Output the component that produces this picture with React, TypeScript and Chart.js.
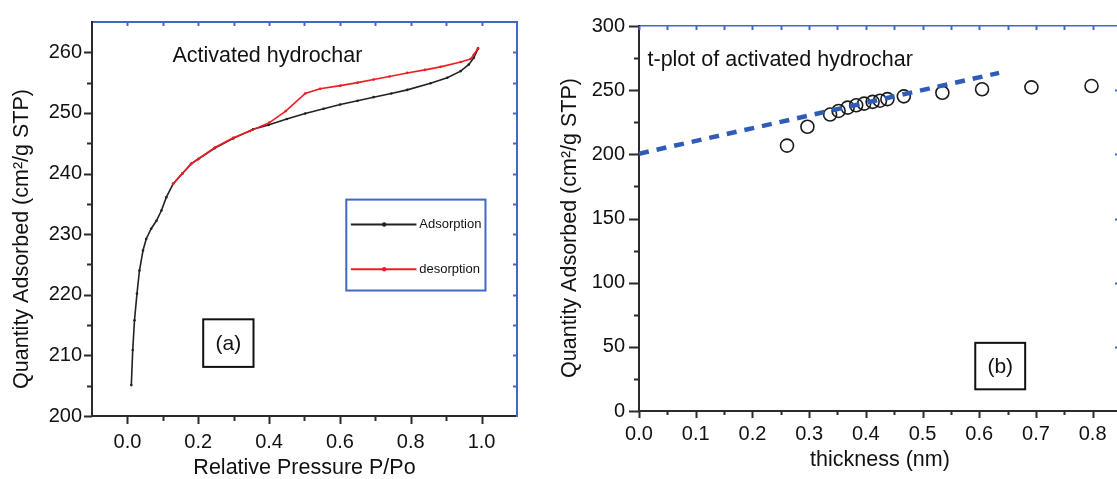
import React, { useEffect, useRef } from 'react';
import { Chart, registerables } from 'chart.js';

Chart.register(...registerables);

// ---------------- Panel (a): N2 isotherm ----------------
const adsorptionP = [
  0.011, 0.015, 0.02, 0.027, 0.034, 0.044, 0.053, 0.067, 0.082, 0.096, 0.11, 0.129,
  0.155, 0.18, 0.2, 0.247, 0.299, 0.355, 0.398, 0.45, 0.502, 0.554, 0.601, 0.65,
  0.695, 0.745, 0.79, 0.856, 0.903, 0.941, 0.964, 0.978, 0.99,
];
const adsorptionQ = [
  205.1, 210.9, 215.8, 220.2, 224.0, 227.3, 229.2, 230.9, 232.2, 233.9, 236.1, 238.3,
  240.0, 241.6, 242.4, 244.2, 245.8, 247.3, 248.0, 249.0, 249.9, 250.7, 251.4, 252.0,
  252.6, 253.2, 253.8, 254.9, 255.8, 256.9, 258.0, 259.1, 260.6,
];
const desorptionP = [
  0.99, 0.978, 0.969, 0.941, 0.884, 0.84, 0.79, 0.74, 0.695, 0.65, 0.601, 0.544,
  0.502, 0.447, 0.401, 0.346, 0.299, 0.247, 0.2, 0.18, 0.155, 0.129,
];
const desorptionQ = [
  260.7, 259.6, 258.9, 258.4, 257.6, 257.1, 256.6, 256.0, 255.5, 255.0, 254.5, 254.0,
  253.2, 250.3, 248.4, 247.0, 245.9, 244.3, 242.4, 241.6, 240.0, 238.3,
];
const pressureTicks = [0, 0.2, 0.4, 0.6, 0.8, 1.0];
const pressureMinorTicks = [0.1, 0.3, 0.5, 0.7, 0.9];
const pressureTopTicks = [0, 0.1, 0.2, 0.3, 0.4, 0.5, 0.6, 0.7, 0.8, 0.9, 1.0];
const quantityTicksA = [200, 210, 220, 230, 240, 250, 260];
const quantityMinorTicksA = [205, 215, 225, 235, 245, 255];
const quantityRightTicksA = [205, 210, 215, 220, 225, 230, 235, 240, 245, 250, 255, 260];

// ---------------- Panel (b): t-plot ----------------
const thickness = [
  0.261, 0.297, 0.337, 0.352, 0.368, 0.383, 0.397, 0.412, 0.425, 0.438, 0.467, 0.535,
  0.605, 0.692, 0.798,
];
const thicknessQuantity = [
  206.8, 221.5, 231.0, 233.8, 236.4, 238.2, 239.5, 240.9, 241.8, 243.0, 245.2, 248.0,
  250.7, 252.2, 253.2,
];
const fitThickness = [0, 0.635];
const fitQuantity = [200.5, 263.5];
const thicknessTicks = [0, 0.1, 0.2, 0.3, 0.4, 0.5, 0.6, 0.7, 0.8];
const thicknessMinorTicks = [0.05, 0.15, 0.25, 0.35, 0.45, 0.55, 0.65, 0.75];
const thicknessTopTicks = [0, 0.05, 0.1, 0.15, 0.2, 0.25, 0.3, 0.35, 0.4, 0.45, 0.5, 0.55, 0.6, 0.65, 0.7, 0.75, 0.8];
const quantityTicksB = [0, 50, 100, 150, 200, 250, 300];
const quantityMinorTicksB = [25, 75, 125, 175, 225, 275];
const quantityRightTicksB = [50, 100, 150, 200, 250];

// ---------------- Styles ----------------
const FONT = "'Liberation Sans', Arial, Helvetica, sans-serif";
const BLUE = '#4268c4';
const DASH_BLUE = '#2f5cb8';
const AXIS = '#2b2b2b';
const TEXT = '#111111';
const Y_TITLE = 'Quantity Adsorbed (cm\u00B2/g STP)';

type Mark = { at: 'bottom' | 'top' | 'left' | 'right'; scale: string; values: number[]; d: number; color: string; width: number };

function drawMarks(chart: any, marks: Mark[]) {
  const ctx = chart.ctx;
  const ca = chart.chartArea;
  ctx.save();
  ctx.lineCap = 'butt';
  for (const m of marks) {
    const s = chart.scales[m.scale];
    ctx.strokeStyle = m.color;
    ctx.lineWidth = m.width;
    for (const v of m.values) {
      const p = Math.round(s.getPixelForValue(v)) + 0.5;
      ctx.beginPath();
      if (m.at === 'bottom' || m.at === 'top') {
        const y0 = m.at === 'bottom' ? ca.bottom : ca.top;
        ctx.moveTo(p, y0);
        ctx.lineTo(p, y0 + m.d);
      } else {
        const x0 = m.at === 'left' ? ca.left : ca.right;
        ctx.moveTo(x0, p);
        ctx.lineTo(x0 + m.d, p);
      }
      ctx.stroke();
    }
  }
  ctx.restore();
}

function rotatedText(ctx: CanvasRenderingContext2D, text: string, x: number, y: number, size: number) {
  ctx.save();
  ctx.translate(x, y);
  ctx.rotate(-Math.PI / 2);
  ctx.font = `${size}px ${FONT}`;
  ctx.fillStyle = TEXT;
  ctx.textAlign = 'center';
  ctx.textBaseline = 'middle';
  ctx.fillText(text, 0, 0);
  ctx.restore();
}

function labelBox(ctx: CanvasRenderingContext2D, text: string, x1: number, y1: number, x2: number, y2: number) {
  ctx.save();
  ctx.strokeStyle = '#111';
  ctx.lineWidth = 2;
  ctx.strokeRect(x1, y1, x2 - x1, y2 - y1);
  ctx.font = `21px ${FONT}`;
  ctx.fillStyle = TEXT;
  ctx.textAlign = 'center';
  ctx.textBaseline = 'middle';
  ctx.fillText(text, (x1 + x2) / 2, (y1 + y2) / 2 + 1);
  ctx.restore();
}

const tickFont = { family: FONT, size: 20 };
const titleFont = { family: FONT, size: 21.5, lineHeight: 1 };
const noGrid = { display: false, drawTicks: false };

function makeA(canvas: HTMLCanvasElement) {
  const adsorption = adsorptionP.map((p, i) => ({ x: p, y: adsorptionQ[i] }));
  const desorption = desorptionP.map((p, i) => ({ x: p, y: desorptionQ[i] }));
  const marks: Mark[] = [
    { at: 'bottom', scale: 'x', values: pressureTicks, d: 8, color: AXIS, width: 2 },
    { at: 'bottom', scale: 'x', values: pressureMinorTicks, d: 5, color: AXIS, width: 2 },
    { at: 'left', scale: 'y', values: quantityTicksA, d: -8, color: AXIS, width: 2 },
    { at: 'left', scale: 'y', values: quantityMinorTicksA, d: -5, color: AXIS, width: 2 },
    { at: 'top', scale: 'x', values: pressureTopTicks, d: 4, color: BLUE, width: 2 },
    { at: 'right', scale: 'y', values: quantityRightTicksA, d: -4, color: BLUE, width: 2 },
  ];
  const annot = {
    id: 'annotA',
    afterDraw(chart: any) {
      const ctx = chart.ctx as CanvasRenderingContext2D;
      const xs = chart.scales.x;
      const ys = chart.scales.y;
      drawMarks(chart, marks);
      rotatedText(ctx, Y_TITLE, 22, 239, 21.5);
      ctx.save();
      ctx.font = `21.5px ${FONT}`;
      ctx.fillStyle = TEXT;
      ctx.textAlign = 'left';
      ctx.textBaseline = 'middle';
      ctx.fillText('Activated hydrochar', xs.getPixelForValue(0.127), ys.getPixelForValue(259.4));
      ctx.restore();
      labelBox(ctx, '(a)', xs.getPixelForValue(0.214), ys.getPixelForValue(215.95), xs.getPixelForValue(0.356), ys.getPixelForValue(208.1));
      // legend
      ctx.save();
      const lx1 = xs.getPixelForValue(0.618), lx2 = xs.getPixelForValue(1.011);
      const ly1 = ys.getPixelForValue(235.7), ly2 = ys.getPixelForValue(220.7);
      ctx.strokeStyle = BLUE;
      ctx.lineWidth = 2;
      ctx.strokeRect(lx1, ly1, lx2 - lx1, ly2 - ly1);
      const entries = [
        { label: 'Adsorption', color: '#222222', q: 231.6 },
        { label: 'desorption', color: '#ee1c24', q: 224.2 },
      ];
      for (const e of entries) {
        const y = ys.getPixelForValue(e.q);
        ctx.strokeStyle = e.color;
        ctx.lineWidth = 2;
        ctx.beginPath();
        ctx.moveTo(xs.getPixelForValue(0.631), y);
        ctx.lineTo(xs.getPixelForValue(0.816), y);
        ctx.stroke();
        ctx.fillStyle = e.color;
        ctx.beginPath();
        ctx.arc(xs.getPixelForValue(0.725), y, 2.2, 0, Math.PI * 2);
        ctx.fill();
        ctx.fillStyle = TEXT;
        ctx.font = `13px ${FONT}`;
        ctx.textAlign = 'left';
        ctx.textBaseline = 'middle';
        ctx.fillText(e.label, xs.getPixelForValue(0.824), y);
      }
      ctx.restore();
    },
  };
  return new Chart(canvas, {
    type: 'scatter',
    data: {
      datasets: [
        {
          label: 'Adsorption', data: adsorption, showLine: true, xAxisID: 'x', yAxisID: 'y',
          borderColor: '#222222', backgroundColor: '#222222', borderWidth: 1.6,
          pointRadius: 1.3, pointBorderWidth: 0, tension: 0, order: 2,
        },
        {
          label: 'desorption', data: desorption, showLine: true, xAxisID: 'x', yAxisID: 'y',
          borderColor: '#ee1c24', backgroundColor: '#ee1c24', borderWidth: 1.6,
          pointRadius: 1.3, pointBorderWidth: 0, tension: 0, order: 1,
        },
      ],
    },
    options: {
      responsive: false,
      animation: false,
      events: [],
      layout: { padding: 0 },
      plugins: { legend: { display: false }, tooltip: { enabled: false } },
      scales: {
        x: {
          type: 'linear', position: 'bottom', min: -0.1, max: 1.1,
          afterBuildTicks: (s: any) => { s.ticks = pressureTicks.map((v) => ({ value: v })); },
          afterFit: (s: any) => { s.height = 63; },
          grid: noGrid,
          border: { display: true, color: AXIS, width: 2 },
          ticks: { font: tickFont, color: TEXT, padding: 14, maxRotation: 0, autoSkip: false, callback: (v: any) => Number(v).toFixed(1) },
          title: { display: true, text: 'Relative Pressure P/Po', font: titleFont, color: TEXT, padding: { top: 0, bottom: 0 } },
        },
        x2: {
          type: 'linear', position: 'top', min: -0.1, max: 1.1,
          afterFit: (s: any) => { s.height = 20; },
          grid: noGrid, ticks: { display: false },
          border: { display: true, color: BLUE, width: 2 },
        },
        y: {
          type: 'linear', position: 'left', min: 200, max: 265,
          afterBuildTicks: (s: any) => { s.ticks = quantityTicksA.map((v) => ({ value: v })); },
          afterFit: (s: any) => { s.width = 92; },
          grid: noGrid,
          border: { display: true, color: AXIS, width: 2 },
          ticks: { font: tickFont, color: TEXT, padding: 10, autoSkip: false },
        },
        y2: {
          type: 'linear', position: 'right', min: 200, max: 265,
          afterFit: (s: any) => { s.width = 23; },
          grid: noGrid, ticks: { display: false },
          border: { display: true, color: BLUE, width: 2 },
        },
      },
    },
    plugins: [annot],
  } as any);
}

function makeB(canvas: HTMLCanvasElement) {
  const points = thickness.map((t, i) => ({ x: t, y: thicknessQuantity[i] }));
  const fit = fitThickness.map((t, i) => ({ x: t, y: fitQuantity[i] }));
  const marks: Mark[] = [
    { at: 'bottom', scale: 'x', values: thicknessTicks, d: 7, color: AXIS, width: 2 },
    { at: 'bottom', scale: 'x', values: thicknessMinorTicks, d: 4, color: AXIS, width: 2 },
    { at: 'left', scale: 'y', values: quantityTicksB, d: -10, color: AXIS, width: 2 },
    { at: 'left', scale: 'y', values: quantityMinorTicksB, d: -5, color: AXIS, width: 2 },
    { at: 'top', scale: 'x', values: thicknessTopTicks, d: 4, color: BLUE, width: 2 },
    { at: 'right', scale: 'y', values: quantityRightTicksB, d: -6, color: BLUE, width: 2 },
  ];
  const annot = {
    id: 'annotB',
    afterDraw(chart: any) {
      const ctx = chart.ctx as CanvasRenderingContext2D;
      const xs = chart.scales.x;
      const ys = chart.scales.y;
      drawMarks(chart, marks);
      rotatedText(ctx, Y_TITLE, 30, 228, 21.5);
      ctx.save();
      ctx.font = `21.5px ${FONT}`;
      ctx.fillStyle = TEXT;
      ctx.textAlign = 'left';
      ctx.textBaseline = 'middle';
      ctx.fillText('t-plot of activated hydrochar', xs.getPixelForValue(0.015), ys.getPixelForValue(273.8));
      ctx.restore();
      labelBox(ctx, '(b)', xs.getPixelForValue(0.593), ys.getPixelForValue(53.1), xs.getPixelForValue(0.681), ys.getPixelForValue(16.9));
    },
  };
  return new Chart(canvas, {
    type: 'scatter',
    data: {
      datasets: [
        {
          label: 't-plot', data: points, xAxisID: 'x', yAxisID: 'y',
          pointStyle: 'circle', pointRadius: 6.5, borderColor: '#1a1a1a', borderWidth: 1.6,
          backgroundColor: 'rgba(255,255,255,0)', order: 2,
        },
        {
          label: 'fit', data: fit, showLine: true, xAxisID: 'x', yAxisID: 'y',
          pointRadius: 0, borderColor: DASH_BLUE, borderWidth: 4.5, borderDash: [10, 8],
          tension: 0, order: 1,
        },
      ],
    },
    options: {
      responsive: false,
      animation: false,
      events: [],
      layout: { padding: 0 },
      plugins: { legend: { display: false }, tooltip: { enabled: false } },
      scales: {
        x: {
          type: 'linear', position: 'bottom', min: 0, max: 0.85,
          afterBuildTicks: (s: any) => { s.ticks = thicknessTicks.map((v) => ({ value: v })); },
          afterFit: (s: any) => { s.height = 68; },
          grid: noGrid,
          border: { display: true, color: AXIS, width: 2 },
          ticks: { font: tickFont, color: TEXT, padding: 11, maxRotation: 0, autoSkip: false, callback: (v: any) => Number(v).toFixed(1) },
          title: { display: true, text: 'thickness (nm)', font: titleFont, color: TEXT, padding: { top: 0, bottom: 8 } },
        },
        x2: {
          type: 'linear', position: 'top', min: 0, max: 0.85,
          afterFit: (s: any) => { s.height = 21; },
          grid: noGrid, ticks: { display: false },
          border: { display: true, color: BLUE, width: 1.5 },
        },
        y: {
          type: 'linear', position: 'left', min: 0, max: 300,
          afterBuildTicks: (s: any) => { s.ticks = quantityTicksB.map((v) => ({ value: v })); },
          afterFit: (s: any) => { s.width = 99; },
          grid: noGrid,
          border: { display: true, color: AXIS, width: 2 },
          ticks: { font: tickFont, color: TEXT, padding: 14, autoSkip: false },
        },
        y2: {
          type: 'linear', position: 'right', min: 0, max: 300,
          afterFit: (s: any) => { s.width = 19; },
          grid: noGrid, ticks: { display: false },
          border: { display: true, color: BLUE, width: 2 },
        },
      },
    },
    plugins: [annot],
  } as any);
}

export default function App() {
  const refA = useRef<HTMLCanvasElement>(null);
  const refB = useRef<HTMLCanvasElement>(null);
  useEffect(() => {
    const a = refA.current ? makeA(refA.current) : null;
    const b = refB.current ? makeB(refB.current) : null;
    return () => {
      a?.destroy();
      b?.destroy();
    };
  }, []);
  return (
    <div style={{ position: 'absolute', left: 0, top: 0, width: 1117, height: 479, overflow: 'hidden', background: '#ffffff' }}>
      <canvas ref={refA} width={540} height={479} style={{ position: 'absolute', left: 0, top: 0, width: 540, height: 479 }} />
      <canvas ref={refB} width={600} height={479} style={{ position: 'absolute', left: 540, top: 0, width: 600, height: 479 }} />
    </div>
  );
}
